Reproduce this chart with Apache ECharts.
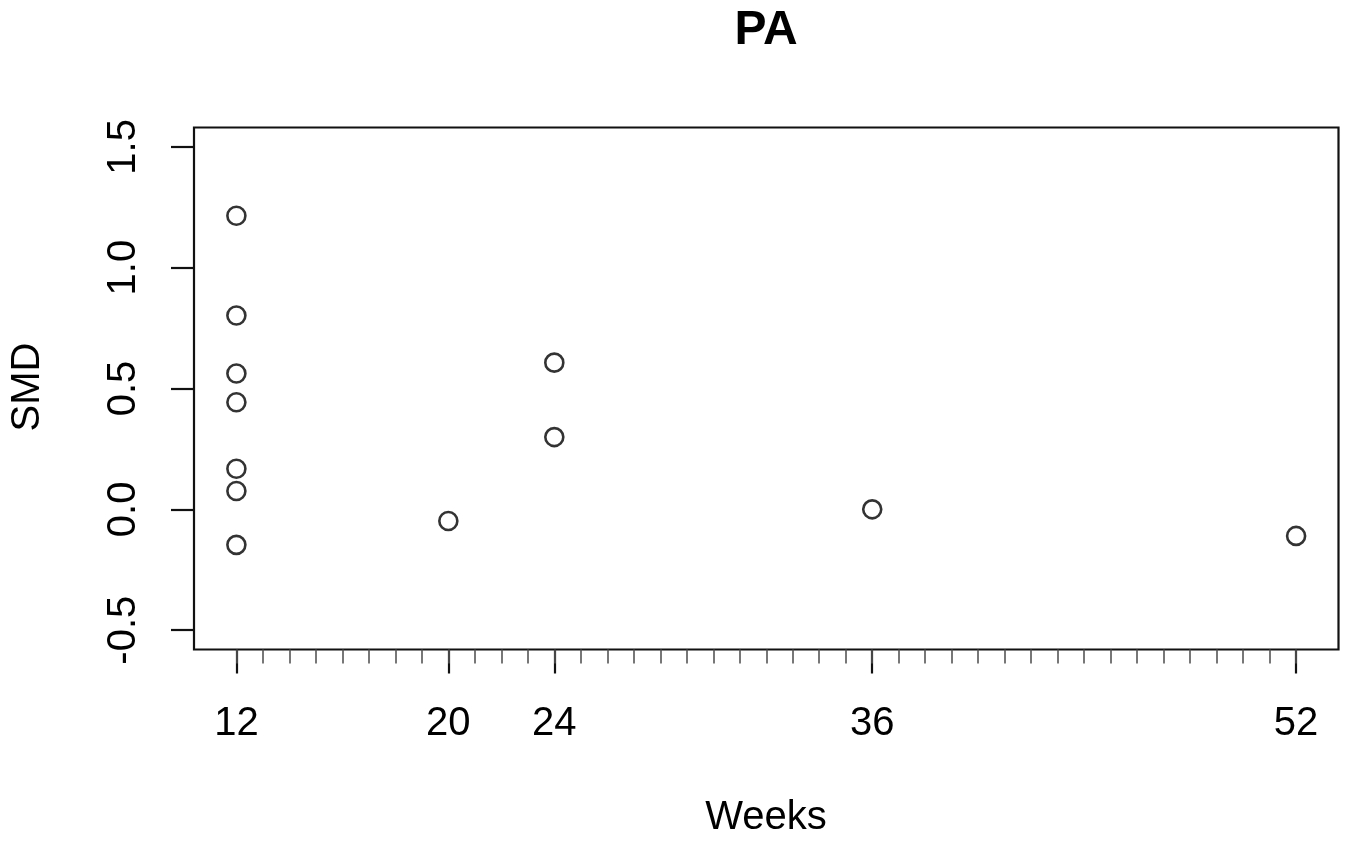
<!DOCTYPE html>
<html>
<head>
<meta charset="utf-8">
<script src="https://cdn.jsdelivr.net/npm/echarts@6/dist/echarts.min.js"></script>
<style>
html,body{margin:0;padding:0;background:#fff;}
#chart{width:1348px;height:842px;}
</style>
</head>
<body>
<div id="chart"></div>
<script>
// Data
const weeks = [12, 12, 12, 12, 12, 12, 12, 20, 24, 24, 36, 52];
const smd = [1.215, 0.802, 0.562, 0.443, 0.168, 0.076, -0.147, -0.048, 0.607, 0.299, 0.0, -0.110];
const xMajorTicks = [12, 20, 24, 36, 52];
const xMinorTicks = [12,13,14,15,16,17,18,19,20,21,22,23,24,25,26,27,28,29,30,31,32,33,34,35,36,37,38,39,40,41,42,43,44,45,46,47,48,49,50,51,52];
const yTicks = [-0.5, 0.0, 0.5, 1.0, 1.5];
const titleText = 'PA';
const xName = 'Weeks';
const yName = 'SMD';

const FONT = 'Liberation Sans, Arial, Helvetica, sans-serif';
const chart = echarts.init(document.getElementById('chart'), null, {renderer: 'canvas'});

const points = weeks.map((w, i) => [w, smd[i]]);

chart.setOption({
  backgroundColor: '#fff',
  animation: false,
  grid: {
    left: 194, right: 9.5, top: 127.5, bottom: 192.5,
    show: true, borderColor: '#111', borderWidth: 2.2, backgroundColor: 'transparent'
  },
  xAxis: [
    {
      type: 'value', min: 10.4, max: 53.6, position: 'bottom',
      axisLine: {show: false, onZero: false},
      splitLine: {show: false},
      axisTick: {show: true, customValues: xMajorTicks, length: 24, lineStyle: {color: '#111', width: 2.2}},
      axisLabel: {show: true, customValues: xMajorTicks, margin: 54, color: '#000', fontSize: 40, fontFamily: FONT}
    },
    {
      type: 'value', min: 10.4, max: 53.6, position: 'bottom',
      axisLine: {show: false, onZero: false},
      splitLine: {show: false},
      axisTick: {show: true, customValues: xMinorTicks, length: 14, lineStyle: {color: '#555', width: 1.6}},
      axisLabel: {show: false}
    }
  ],
  yAxis: {
    type: 'value', min: -0.58, max: 1.58,
    axisLine: {show: false, onZero: false},
    splitLine: {show: false},
    axisTick: {show: true, customValues: yTicks, length: 23, lineStyle: {color: '#111', width: 2.2}},
    axisLabel: {
      show: true, customValues: yTicks, rotate: 90, margin: 50,
      color: '#000', fontSize: 40, fontFamily: FONT,
      formatter: v => v.toFixed(1)
    }
  },
  graphic: [
    {type: 'text', x: 766, y: 31, style: {text: titleText, font: 'bold 48px ' + FONT, fill: '#000', textAlign: 'center', textVerticalAlign: 'middle'}},
    {type: 'text', x: 766, y: 818, style: {text: xName, font: '40px ' + FONT, fill: '#000', textAlign: 'center', textVerticalAlign: 'middle'}},
    {type: 'text', x: 28, y: 387, rotation: Math.PI / 2, style: {text: yName, font: '40px ' + FONT, fill: '#000', textAlign: 'center', textVerticalAlign: 'middle'}}
  ],
  series: [{
    type: 'scatter',
    xAxisIndex: 0,
    data: points,
    symbol: 'circle',
    symbolSize: 18,
    itemStyle: {color: 'rgba(255,255,255,0)', borderColor: '#000', borderWidth: 2.6},
    emphasis: {disabled: true}
  }]
});
</script>
</body>
</html>
